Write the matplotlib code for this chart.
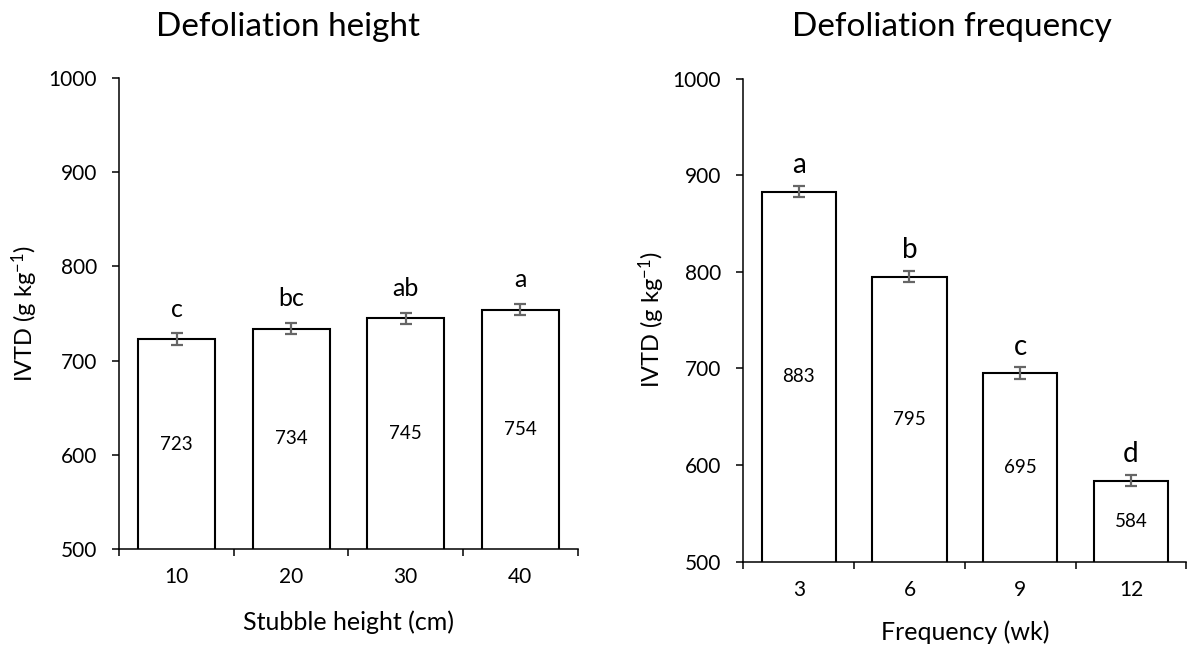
import numpy as np
import matplotlib.pyplot as plt
from matplotlib.ticker import FixedLocator

plt.rcParams['font.family'] = ['Lato', 'DejaVu Sans']
plt.rcParams['mathtext.fontset'] = 'custom'
plt.rcParams['mathtext.rm'] = 'Lato'
plt.rcParams['mathtext.default'] = 'regular'

# stubble height panel
height_cats = ['10', '20', '30', '40']
height_ivtd = [723, 734, 745, 754]
height_se = [6, 6, 6, 6]
height_letters = ['c', 'bc', 'ab', 'a']

# defoliation frequency panel
freq_cats = ['3', '6', '9', '12']
freq_ivtd = [883, 795, 695, 584]
freq_se = [6, 6, 6, 6]
freq_letters = ['a', 'b', 'c', 'd']

fig = plt.figure(figsize=(11.93, 6.49), dpi=100)
ax1 = fig.add_axes([0.1000, 0.1536, 0.3841, 0.7265])
ax2 = fig.add_axes([0.6231, 0.1345, 0.3713, 0.7445])


def draw_panel(ax, cats, vals, se, letters, xlabel, letter_off, letter_size,
               xlabel_y):
    x = np.arange(len(cats))
    ax.bar(x, vals, width=0.67, color='white', edgecolor='black',
           linewidth=1.5, zorder=2)
    ax.errorbar(x, vals, yerr=se, fmt='none', ecolor='#666666', elinewidth=1.6,
                capsize=4.3, capthick=1.6, zorder=3)
    for xi, v, s, let in zip(x, vals, se, letters):
        # significance letter above the error bar, value in the middle of the bar
        ax.annotate(let, (xi, v + s), xytext=(0, letter_off),
                    textcoords='offset points', ha='center', va='baseline',
                    fontsize=letter_size)
        ax.text(xi, 500 + (v - 500) * 0.5, str(v), ha='center',
                va='center', fontsize=13.5)
    ax.set_ylim(500, 1000)
    ax.set_xlim(-0.5, len(cats) - 0.5)
    ax.set_yticks([500, 600, 700, 800, 900, 1000])
    ax.tick_params(axis='y', direction='out', length=5, width=1.1,
                   labelsize=15, pad=11)
    ax.set_xticks(x)
    ax.set_xticklabels(cats)
    ax.tick_params(axis='x', which='major', length=0, labelsize=15, pad=13)
    ax.xaxis.set_minor_locator(FixedLocator(np.arange(len(cats) + 1) - 0.5))
    ax.tick_params(axis='x', which='minor', direction='out', length=5, width=1.1)
    for side in ['top', 'right']:
        ax.spines[side].set_visible(False)
    for side in ['left', 'bottom']:
        ax.spines[side].set_linewidth(1.1)
    ax.set_ylabel('IVTD (g kg$^{-1}$)', fontsize=17, va='center')
    ax.yaxis.set_label_coords(-0.206, 0.5)
    ax.set_xlabel(xlabel, fontsize=18, va='center')
    ax.xaxis.set_label_coords(0.5, xlabel_y)


draw_panel(ax1, height_cats, height_ivtd, height_se, height_letters,
           'Stubble height (cm)', 12, 18, -0.154)
draw_panel(ax2, freq_cats, freq_ivtd, freq_se, freq_letters,
           'Frequency (wk)', 9, 20, -0.1455)

fig.text(288 / 1193, 1 - 27 / 649, 'Defoliation height', fontsize=24,
         ha='center', va='center')
fig.text(952 / 1193, 1 - 27 / 649, 'Defoliation frequency', fontsize=24,
         ha='center', va='center')

fig.savefig('out.png', dpi=100)
